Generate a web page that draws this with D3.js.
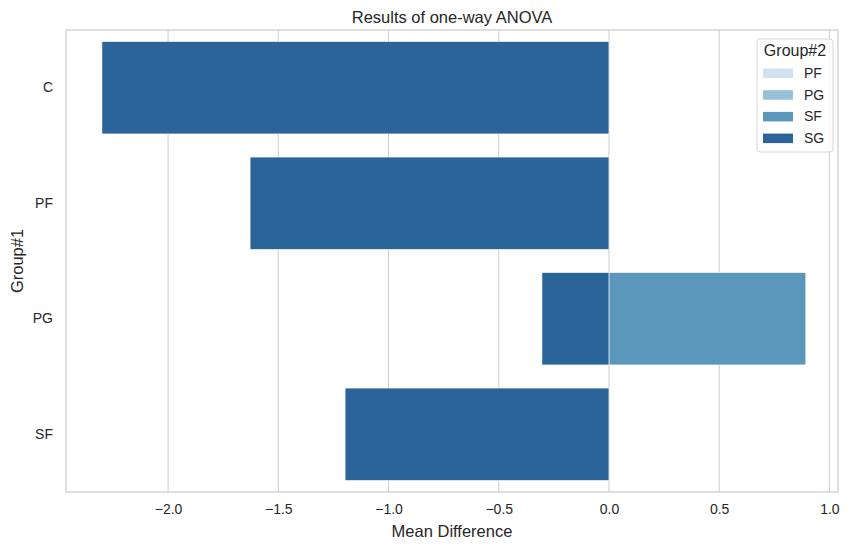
<!DOCTYPE html>
<html><head><meta charset="utf-8">
<script src="https://cdn.jsdelivr.net/npm/d3@7"></script>
<style>body{margin:0;background:#fff;} text{font-family:"Liberation Sans",Arial,sans-serif;fill:#262626;}</style>
</head><body><svg id="c" width="850" height="550"></svg>
<script>
const groups1 = ["C","PF","PG","SF"];
const hueLevels = ["PF","PG","SF","SG"];
const hueColors = ["#d0e1ef","#95c0d6","#5b96bb","#2a6498"];
// visible bars: [group1, group2, mean difference]
const barGroup1 = ["C","PF","PG","PG","SF"];
const barGroup2 = ["SG","SG","SF","SG","SG"];
const barValues = [-2.30,-1.628,0.893,-0.304,-1.197];
const xTicks = [-2.0,-1.5,-1.0,-0.5,0.0,0.5,1.0];

const svg = d3.select("#c");
const m = {l:66,r:12,t:30,b:58};
const W = 850, H = 550;
const x = d3.scaleLinear().domain([-2.463,1.039]).range([m.l, W-m.r]);
const y = d3.scaleBand().domain(groups1).range([m.t, H-m.b]).paddingInner(0.2).paddingOuter(0.1);
const color = d3.scaleOrdinal().domain(hueLevels).range(hueColors);

// grid
svg.append("g").selectAll("line").data(xTicks).join("line")
  .attr("x1",d=>x(d)).attr("x2",d=>x(d)).attr("y1",m.t).attr("y2",H-m.b)
  .attr("stroke","#cccccc").attr("stroke-width",1);

// bars, drawn in hue order
const bars = barValues.map((v,i)=>({g1:barGroup1[i],g2:barGroup2[i],v}))
  .sort((a,b)=>hueLevels.indexOf(a.g2)-hueLevels.indexOf(b.g2));
svg.append("g").selectAll("rect").data(bars).join("rect")
  .attr("x",d=>Math.min(x(0),x(d.v))).attr("width",d=>Math.abs(x(d.v)-x(0)))
  .attr("y",d=>y(d.g1)).attr("height",y.bandwidth())
  .attr("fill",d=>color(d.g2)).attr("stroke","#ffffff").attr("stroke-width",0.6);

// frame
svg.append("rect").attr("x",m.l).attr("y",m.t).attr("width",W-m.r-m.l).attr("height",H-m.b-m.t)
  .attr("fill","none").attr("stroke","#cccccc").attr("stroke-width",1.25);

// axes
const xa = svg.append("g").attr("transform",`translate(0,${H-m.b})`)
  .call(d3.axisBottom(x).tickValues(xTicks).tickFormat(d=>d3.format(".1f")(d).replace("-","\u2212")).tickSize(0).tickPadding(12));
xa.select(".domain").remove();
xa.selectAll("text").style("font-size","14px").attr("fill","#262626");
const ya = svg.append("g").attr("transform",`translate(${m.l},0)`)
  .call(d3.axisLeft(y).tickSize(0).tickPadding(13));
ya.select(".domain").remove();
ya.selectAll("text").style("font-size","14px").attr("fill","#262626");

svg.append("text").attr("x",(m.l+W-m.r)/2).attr("y",537).attr("text-anchor","middle").style("font-size","16.5px").text("Mean Difference");
svg.append("text").attr("transform",`translate(23,${(m.t+H-m.b)/2}) rotate(-90)`).attr("text-anchor","middle").style("font-size","16.5px").text("Group#1");
svg.append("text").attr("x",(m.l+W-m.r)/2).attr("y",23).attr("text-anchor","middle").style("font-size","16.5px").text("Results of one-way ANOVA");

// legend
const lg = svg.append("g");
lg.append("rect").attr("x",757).attr("y",39).attr("width",76).attr("height",113).attr("rx",3)
  .attr("fill","#ffffff").attr("fill-opacity",0.8).attr("stroke","#d6d6d6");
lg.append("text").attr("x",795).attr("y",56).attr("text-anchor","middle").style("font-size","16px").text("Group#2");
hueLevels.forEach((h,i)=>{
  const yy = 73 + i*21.7;
  lg.append("rect").attr("x",763).attr("y",yy-4.5).attr("width",30).attr("height",9.5).attr("fill",color(h));
  lg.append("text").attr("x",804).attr("y",yy+5).style("font-size","14px").text(h);
});
</script></body></html>
